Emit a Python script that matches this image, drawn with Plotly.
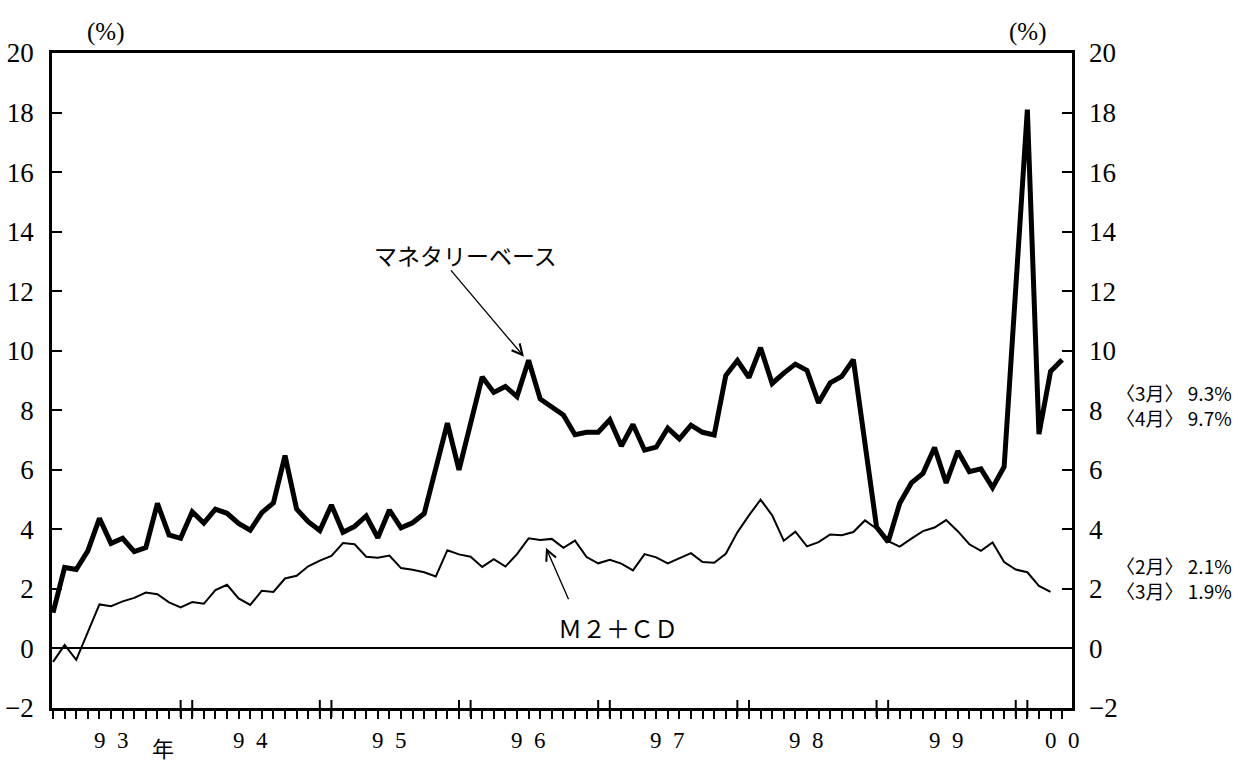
import pandas as pd
import plotly.graph_objects as go

# ---------------- data ----------------
months = pd.period_range("1993-01", "2000-04", freq="M")

monetary_base = [
    1.2, 2.72, 2.65, 3.28, 4.37, 3.53, 3.70, 3.25, 3.39, 4.87, 3.81, 3.70,   # 1993
    4.59, 4.21, 4.68, 4.54, 4.20, 3.97, 4.56, 4.89, 6.48, 4.68, 4.26, 3.96,  # 1994
    4.82, 3.90, 4.10, 4.45, 3.72, 4.65, 4.05, 4.22, 4.53, 6.0, 7.57, 6.0,    # 1995
    7.6, 9.12, 8.6, 8.8, 8.46, 9.68, 8.38, 8.1, 7.84, 7.18, 7.26, 7.26,      # 1996
    7.68, 6.8, 7.52, 6.66, 6.76, 7.4, 7.04, 7.5, 7.26, 7.17, 9.17, 9.67,     # 1997
    9.1, 10.1, 8.9, 9.25, 9.55, 9.34, 8.25, 8.92, 9.14, 9.70, 6.9, 4.08,     # 1998
    3.58, 4.88, 5.56, 5.88, 6.75, 5.56, 6.63, 5.94, 6.03, 5.4, 6.1, 12.2,    # 1999
    18.1, 7.2, 9.3, 9.7,                                                     # 2000
]

m2cd = [
    -0.45, 0.12, -0.38, 0.55, 1.48, 1.42, 1.58, 1.70, 1.88, 1.82, 1.55, 1.38,  # 1993
    1.56, 1.50, 1.96, 2.14, 1.68, 1.46, 1.94, 1.90, 2.35, 2.44, 2.76, 2.95,    # 1994
    3.11, 3.54, 3.50, 3.08, 3.05, 3.12, 2.70, 2.64, 2.56, 2.42, 3.30, 3.16,    # 1995
    3.08, 2.74, 3.00, 2.75, 3.17, 3.70, 3.64, 3.68, 3.38, 3.62, 3.07, 2.86,    # 1996
    2.98, 2.85, 2.62, 3.17, 3.06, 2.86, 3.03, 3.20, 2.90, 2.88, 3.18, 3.9,     # 1997
    4.47, 5.0, 4.47, 3.62, 3.92, 3.43, 3.57, 3.83, 3.80, 3.91, 4.3, 4.02,      # 1998
    3.6, 3.42, 3.69, 3.94, 4.06, 4.31, 3.94, 3.5, 3.28, 3.56, 2.9, 2.65,       # 1999
    2.56, 2.1, 1.9,                                                            # 2000
]

year_labels = ["9\u20023", "9\u20024", "9\u20025", "9\u20026", "9\u20027", "9\u20028", "9\u20029", "0\u20020"]
y_ticks = list(range(-2, 21, 2))

mb_label = "マネタリーベース"
m2_label = "Ｍ２＋ＣＤ"

# ---------------- figure ----------------
idx = list(range(len(months)))
SERIF = "Liberation Serif"
CJK = "Noto Sans CJK JP"

fig = go.Figure()
fig.add_trace(go.Scatter(x=idx, y=monetary_base, mode="lines",
                         line=dict(color="black", width=5), name=mb_label,
                         showlegend=False))
fig.add_trace(go.Scatter(x=idx[:len(m2cd)], y=m2cd, mode="lines",
                         line=dict(color="black", width=2), name="M2+CD",
                         showlegend=False))
# helper trace so the right-hand axis is drawn
fig.add_trace(go.Scatter(x=[0], y=[0], yaxis="y2", mode="markers",
                         marker=dict(opacity=0), showlegend=False,
                         hoverinfo="skip"))

fig.update_layout(
    width=1248, height=764,
    margin=dict(l=52, r=176, t=53, b=56, autoexpand=False),
    paper_bgcolor="white", plot_bgcolor="white",
    showlegend=False,
    xaxis=dict(range=[-0.09, 87.85], tick0=0, dtick=1, ticks="outside",
               ticklen=8, tickwidth=2, tickcolor="black",
               showticklabels=False, showline=True, linewidth=2.5,
               linecolor="black", mirror=True, showgrid=False,
               zeroline=False, automargin=False),
    yaxis=dict(range=[-2, 20], tickvals=y_ticks, ticks="inside", ticklen=10,
               tickwidth=2, tickcolor="black", showline=True, linewidth=2.5,
               linecolor="black", mirror="ticks", showgrid=False,
               zeroline=True, zerolinewidth=2, zerolinecolor="black",
               tickfont=dict(family=SERIF, size=27, color="black"),
               ticklabelstandoff=10, automargin=False),
    yaxis2=dict(range=[-2, 20], tickvals=y_ticks, overlaying="y",
                side="right", showline=False, ticks="", showgrid=False,
                zeroline=False, automargin=False,
                tickfont=dict(family=SERIF, size=27, color="black"),
                ticklabelstandoff=16),
)

# taller double ticks at year boundaries (December / January)
for i, m in enumerate(months):
    if m.month == 12 or (m.month == 1 and i > 0):
        fig.add_shape(type="line", xref="x", yref="paper", x0=i, x1=i,
                      y0=-9 / 655, y1=8 / 655,
                      line=dict(color="black", width=2))

# year labels (mid-year), last one at final month
label_pos = [i for i, m in enumerate(months) if m.month == 6]
label_pos.append(idx[-1])
for lab, pos in zip(year_labels, label_pos):
    fig.add_annotation(x=pos, y=0, xref="x", yref="paper", text=lab,
                       showarrow=False, yshift=-32, yanchor="middle",
                       xanchor="center",
                       font=dict(family=SERIF, size=23, color="black"))
fig.add_annotation(x=label_pos[0] + 4.5, y=0, xref="x", yref="paper",
                   text="年", showarrow=False, yshift=-39, yanchor="middle",
                   xanchor="center",
                   font=dict(family=CJK, size=22, color="black"))

# (%) unit labels
for px in (0.052, 0.956):
    fig.add_annotation(x=px, y=1, xref="paper", yref="paper", text="(%)",
                       showarrow=False, yshift=21, yanchor="middle",
                       xanchor="center",
                       font=dict(family=SERIF, size=25, color="black"))

# series labels with arrows
fig.add_annotation(x=35.6, y=13.2, text=mb_label, showarrow=False,
                   xanchor="center",
                   font=dict(family=CJK, size=23, color="black"))
fig.add_annotation(x=40.6, y=9.8, ax=34.2, ay=12.75, axref="x", ayref="y",
                   text="", showarrow=True, arrowhead=5, arrowsize=1.6,
                   arrowwidth=1.3, arrowcolor="black")
fig.add_annotation(x=48.7, y=0.72, text=m2_label, showarrow=False,
                   xanchor="center",
                   font=dict(family=CJK, size=24, color="black"))
fig.add_annotation(x=42.5, y=3.38, ax=44.5, ay=1.6, axref="x", ayref="y",
                   text="", showarrow=True, arrowhead=5, arrowsize=1.6,
                   arrowwidth=1.3, arrowcolor="black")

# latest values noted on the right
notes = [
    (months[-2], monetary_base[-2], 8.6),
    (months[-1], monetary_base[-1], 7.76),
    (months[len(m2cd) - 2], m2cd[-2], 2.8),
    (months[len(m2cd) - 1], m2cd[-1], 1.95),
]
for m, v, ypos in notes:
    fig.add_annotation(x=1.041, y=ypos, xref="paper", yref="y",
                       text=f"〈{m.month}月〉 {v:.1f}%", showarrow=False,
                       xanchor="left", yanchor="middle",
                       font=dict(family=CJK, size=19, color="black"))

fig.write_html("out.html",
               config={"displayModeBar": False},
               post_script="document.body.style.margin='0';")
